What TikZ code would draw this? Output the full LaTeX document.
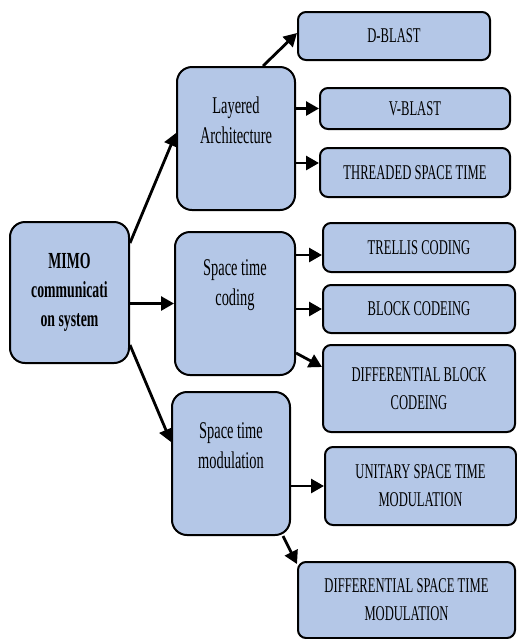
\documentclass[tikz,border=0pt]{standalone}
\usepackage{fontspec}
\setmainfont{Liberation Serif}[FakeStretch=0.6]
\usetikzlibrary{positioning,arrows.meta}
\definecolor{ink}{HTML}{000000}
\definecolor{lightblue}{HTML}{B4C7E7}
\tikzset{
  rootbox/.style={draw=ink,fill=lightblue,line width=1pt,rounded corners=7.5pt,inner sep=0pt,align=center,font=\fontsize{11.5}{14.5}\selectfont\bfseries},
  midbox/.style={draw=ink,fill=lightblue,line width=1pt,rounded corners=7.5pt,inner sep=0pt,align=center,font=\fontsize{12}{15}\selectfont},
  leafbox/.style={draw=ink,fill=lightblue,line width=1pt,rounded corners=4pt,inner sep=0pt,align=center,font=\fontsize{10.5}{14}\selectfont},
  flow/.style={-{Triangle[length=6.5pt,width=7pt]},draw=ink,line width=1.4pt}}

\begin{document}
\begin{tikzpicture}[x=0.5pt,y=-0.5pt]
\useasboundingbox (0,0) rectangle (517,639);
% root and the three families
\node[rootbox,minimum width=59.5pt,minimum height=70.5pt] (mimo) at (69.5,292.5) {MIMO\\communicati\\on system};
\node[midbox,minimum width=59pt,minimum height=71.5pt,text depth=18pt] (layered) at (236,138.5) {Layered\\Architecture};
\node[midbox,minimum width=60pt,minimum height=71.5pt,text depth=21pt] (stc) at (235,303.5) {Space time\\coding};
\node[midbox,minimum width=59pt,minimum height=71.5pt,text depth=18pt] (stm) at (231,463.5) {Space time\\modulation};
% leaves
\node[leafbox,minimum width=96pt,minimum height=24pt] (dblast) at (394,36) {D-BLAST};
\node[leafbox,minimum width=95pt,minimum height=20.5pt] (vblast) at (415,108.5) {V-BLAST};
\node[leafbox,minimum width=95pt,minimum height=24.5pt] (threaded) at (415,172.5) {THREADED SPACE TIME};
\node[leafbox,minimum width=96pt,minimum height=24.5pt] (trellis) at (419,247.5) {TRELLIS CODING};
\node[leafbox,minimum width=96pt,minimum height=24pt] (block) at (419,309) {BLOCK CODEING};
\node[leafbox,minimum width=96pt,minimum height=43.5pt] (diffblock) at (419,388.5) {DIFFERENTIAL BLOCK\\CODEING};
\node[leafbox,minimum width=95.5pt,minimum height=39pt] (unitary) at (420.5,486) {UNITARY SPACE TIME\\MODULATION};
\node[leafbox,minimum width=108.5pt,minimum height=38pt] (diffstm) at (406.5,600) {DIFFERENTIAL SPACE TIME\\MODULATION};
% connectors
\draw[flow] ([yshift=24.75pt]mimo.east) -- ([yshift=2.75pt]layered.west);
\draw[flow] (mimo.east |- stc.west) -- (stc.west);
\draw[flow] ([yshift=-26.25pt]mimo.east) -- ([yshift=10.75pt]stm.west);
\draw[flow] ([xshift=13.5pt]layered.north) -- ([yshift=1.5pt]dblast.west);
\draw[flow] (layered.east |- vblast.west) -- (vblast.west);
\draw[flow] ([yshift=-12.25pt]layered.east) -- ([yshift=4.75pt]threaded.west);
\draw[flow] ([yshift=24.25pt]stc.east) -- ([yshift=-3.75pt]trellis.west);
\draw[flow] (stc.east |- block.west) -- (block.west);
\draw[flow] ([yshift=-24.75pt]stc.east) -- ([yshift=10.75pt]diffblock.west);
\draw[flow] (stm.east |- unitary.west) -- (unitary.west);
\draw[flow] ([xshift=-4pt]stm.south east) -- ([yshift=-1.5pt]diffstm.north west);
\end{tikzpicture}
\end{document}
